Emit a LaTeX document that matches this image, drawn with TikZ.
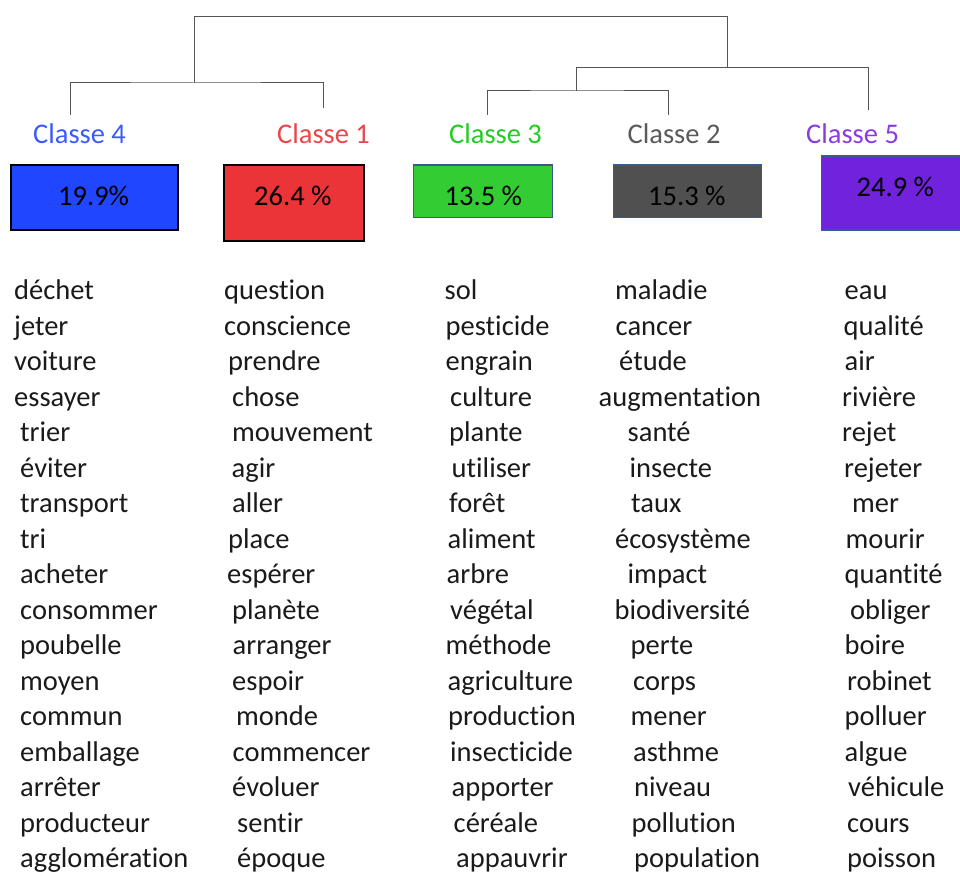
\documentclass[tikz,border=0pt]{standalone}
\usepackage{fontspec}
\setmainfont{Carlito}[Ligatures={NoCommon,NoContextual}]
\definecolor{treegray}{HTML}{555555}
\definecolor{c4}{HTML}{3A5CFF}
\definecolor{c1}{HTML}{E8474A}
\definecolor{c3}{HTML}{22CC22}
\definecolor{c2}{HTML}{5A5A5A}
\definecolor{c5}{HTML}{8A3CE0}
\definecolor{f4}{HTML}{2146FF}
\definecolor{f1}{HTML}{EA3438}
\definecolor{f3}{HTML}{33CC33}
\definecolor{f2}{HTML}{505050}
\definecolor{f5}{HTML}{7022DC}
\definecolor{edgeblue}{HTML}{3A5A8A}
\definecolor{wordcol}{HTML}{1A1A1A}
\tikzset{
  tree/.style={draw=treegray, line width=1pt},
  txt/.style={anchor=base west, inner sep=0pt, font=\fontsize{28.5}{34}\selectfont},
  word/.style={txt, text=wordcol},
  cls/.style={txt},
  pct/.style={txt, text=black},
  boxA/.style={draw=black, line width=2pt, inner sep=0pt, anchor=north west},
  boxB/.style={draw=edgeblue, line width=1.5pt, inner sep=0pt, anchor=north west},
}
\begin{document}
\begin{tikzpicture}[x=1pt, y=-1pt]
\useasboundingbox (0,0) rectangle (960,872);

% class labels
\node[cls, text=c4] (L4) at (33,143) {Classe 4};
\node[cls, text=c1] (L1) at (277,143) {Classe 1};
\node[cls, text=c3] (L3) at (449,143) {Classe 3};
\node[cls, text=c2] (L2) at (627.5,143) {Classe 2};
\node[cls, text=c5] (L5) at (806,143) {Classe 5};

% tree
\coordinate (t4) at (70,115);
\coordinate (t1) at (323.7,108);
\coordinate (t3) at (487,115);
\coordinate (t2) at (668.7,115);
\coordinate (t5) at (868.7,110);
\coordinate (h41) at (194,83);
\coordinate (h32) at (576.3,91);
\coordinate (h325) at (727.7,67.3);
\coordinate (root) at (194,16.7);
\draw[tree] (t4) |- (h41) -| (t1);
\draw[tree] (h41) -- (root) -| (h325);
\draw[tree] (t3) |- (h32) -| (t2);
\draw[tree] (h32) |- (h325) -| (t5);

% boxes
\node[boxA, fill=f4, minimum width=166.7pt, minimum height=65pt] (B4) at (10,164.3) {};
\node[boxA, fill=f1, minimum width=140pt, minimum height=76pt] (B1) at (222.7,164.3) {};
\node[boxB, fill=f3, minimum width=139pt, minimum height=52.4pt] (B3) at (412.7,164.3) {};
\node[boxB, fill=f2, minimum width=148pt, minimum height=52.4pt] (B2) at (612.7,164.3) {};
\node[boxB, fill=f5, minimum width=150pt, minimum height=74pt] (B5) at (820.7,155.3) {};

\node[pct] (P4) at (58,205) {19.9\%};
\node[pct] (P1) at (254,205) {26.4 \%};
\node[pct] (P3) at (444.5,205) {13.5 \%};
\node[pct] (P2) at (648,205) {15.3 \%};
\node[pct] (P5) at (856.5,196.5) {24.9 \%};

% word lists
\foreach \w/\x [count=\i from 0] in {déchet/14, jeter/14, voiture/14, essayer/14, trier/20, éviter/20, transport/20, tri/20, acheter/20, consommer/20, poubelle/20, moyen/20, commun/20, emballage/20, arrêter/20, producteur/20, agglomération/20}
  \node[word] (wa\i) at (\x, 299.5+35.5*\i) {\w};
\foreach \w/\x [count=\i from 0] in {question/224, conscience/224, prendre/228, chose/232, mouvement/232, agir/231.5, aller/232, place/228, espérer/227, planète/232, arranger/232.5, espoir/232, monde/236, commencer/232.5, évoluer/232, sentir/237, époque/237}
  \node[word] (wb\i) at (\x, 299.5+35.5*\i) {\w};
\foreach \w/\x [count=\i from 0] in {sol/444.5, pesticide/445.5, engrain/445.5, culture/450, plante/449, utiliser/451.5, forêt/449, aliment/447.5, arbre/446.5, végétal/450, méthode/445.5, agriculture/447.5, production/448, insecticide/450, apporter/451.5, céréale/453.5, appauvrir/456}
  \node[word] (wc\i) at (\x, 299.5+35.5*\i) {\w};
\foreach \w/\x [count=\i from 0] in {maladie/615, cancer/615.5, étude/619, augmentation/598.5, santé/627.5, insecte/629.5, taux/631, écosystème/615, impact/627.5, biodiversité/614.5, perte/630.5, corps/633, mener/630.5, asthme/633, niveau/634, pollution/631.5, population/634}
  \node[word] (wd\i) at (\x, 299.5+35.5*\i) {\w};
\foreach \w/\x [count=\i from 0] in {eau/844.5, qualité/843.5, air/844.5, rivière/842, rejet/842, rejeter/844, mer/852, mourir/845.5, quantité/844.5, obliger/850, boire/844.5, robinet/847, polluer/844.5, algue/844.5, véhicule/848, cours/847, poisson/847}
  \node[word] (we\i) at (\x, 299.5+35.5*\i) {\w};
\end{tikzpicture}
\end{document}
